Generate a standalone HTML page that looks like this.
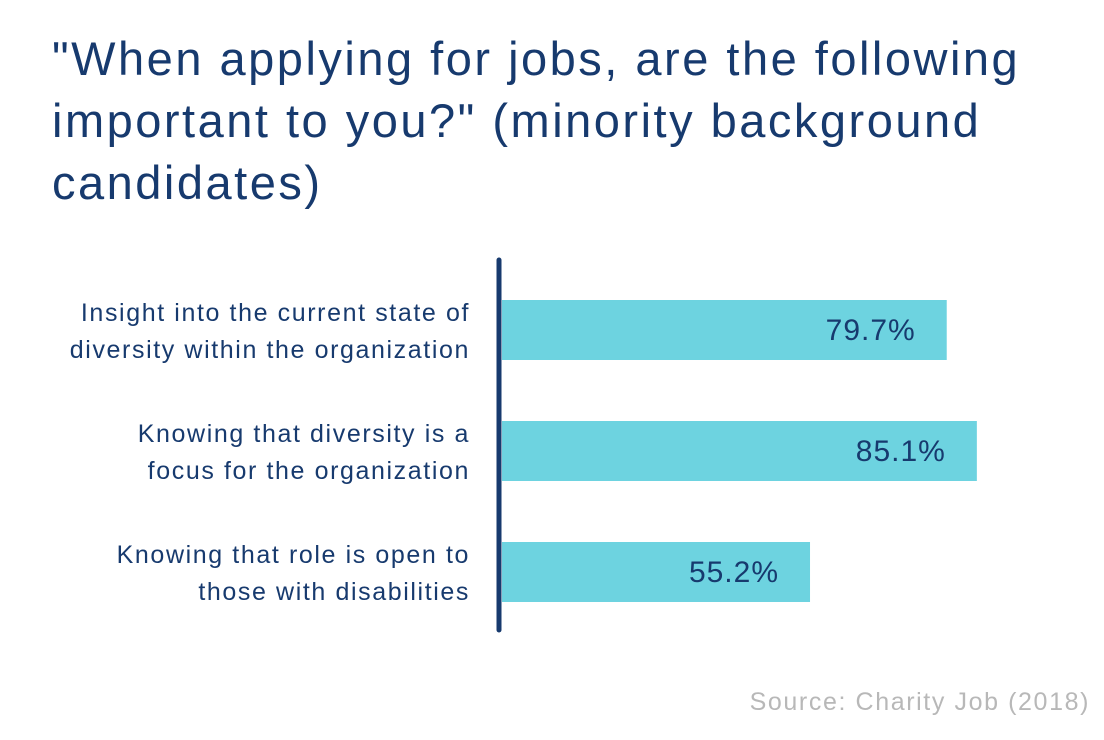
<!DOCTYPE html>
<html><head><meta charset="utf-8"><style>
body{margin:0;background:#fff;width:1104px;height:740px;overflow:hidden;font-family:"Liberation Sans",sans-serif}
#title{position:absolute;left:52px;top:28px;margin:0;font-size:47px;line-height:62px;color:#173a6e;font-weight:normal;letter-spacing:2.5px;white-space:nowrap}
#src{position:absolute;right:14px;top:688px;font-size:25px;color:#b8b8b8;letter-spacing:1.6px}
</style></head><body>
<h1 id="title">"When applying for jobs, are the following<br>important to you?" (minority background<br>candidates)</h1>
<svg id="chart" width="1104" height="740" style="position:absolute;left:0;top:0"></svg>
<div id="src">Source: Charity Job (2018)</div>
<script>
const categories=[["Insight into the current state of","diversity within the organization"],["Knowing that diversity is a","focus for the organization"],["Knowing that role is open to","those with disabilities"]];
const values=[79.7,85.1,55.2];
const valueLabels=["79.7%","85.1%","55.2%"];
const NS="http://www.w3.org/2000/svg";
const svg=document.getElementById('chart');
const x0=502,scale=5.58;
function xs(v){return x0+v*scale;}
function yc(i){return 330+i*121;}
function mk(t,a){const e=document.createElementNS(NS,t);for(const k in a)e.setAttribute(k,a[k]);svg.appendChild(e);return e;}
values.forEach((v,i)=>{
 const r=mk('rect',{x:x0,y:yc(i)-30,width:xs(v)-x0,height:60,fill:'#6dd3e0'});
 
 
 const t=mk('text',{x:xs(v)-31,y:yc(i)+10,'text-anchor':'end','font-size':30,'letter-spacing':1,fill:'#173a6e','font-family':'Liberation Sans'});
 t.textContent=valueLabels[i];
 
 
 categories[i].forEach((ln,j)=>{
  const c=mk('text',{x:470,y:yc(i)-17+j*37+8,'text-anchor':'end','font-size':25,'letter-spacing':1.6,fill:'#173a6e','font-family':'Liberation Sans'});
  c.textContent=ln;
  
  
 });
});
const ax=mk('line',{x1:499,y1:260,x2:499,y2:630,stroke:'#173a6e','stroke-width':5,'stroke-linecap':'round'});


</script>
</body></html>
